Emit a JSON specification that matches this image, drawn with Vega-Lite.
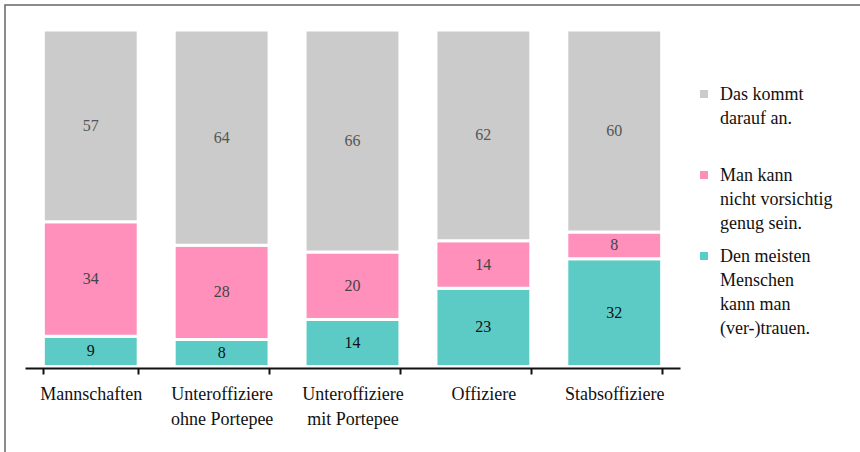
{
  "$schema": "https://vega.github.io/schema/vega-lite/v6.json",
  "autosize": {"type": "none"},
  "width": 860,
  "height": 452,
  "padding": {"left": 5, "top": 5, "right": -5, "bottom": -5},
  "background": "white",
  "config": {
    "view": {"stroke": "#666666", "strokeWidth": 1.5},
    "font": "Liberation Serif",
    "legend": {"labelFont": "Liberation Serif"},
    "axis": {"labelFont": "Liberation Serif"},
    "text": {"font": "Liberation Serif"}
  },
  "data": {
    "values": [
      {"rang": "Mannschaften", "antwort": "Den meisten Menschen kann man (ver-)trauen.", "wert": 9},
      {"rang": "Mannschaften", "antwort": "Man kann nicht vorsichtig genug sein.", "wert": 34},
      {"rang": "Mannschaften", "antwort": "Das kommt darauf an.", "wert": 57},
      {"rang": "Unteroffiziere ohne Portepee", "antwort": "Den meisten Menschen kann man (ver-)trauen.", "wert": 8},
      {"rang": "Unteroffiziere ohne Portepee", "antwort": "Man kann nicht vorsichtig genug sein.", "wert": 28},
      {"rang": "Unteroffiziere ohne Portepee", "antwort": "Das kommt darauf an.", "wert": 64},
      {"rang": "Unteroffiziere mit Portepee", "antwort": "Den meisten Menschen kann man (ver-)trauen.", "wert": 14},
      {"rang": "Unteroffiziere mit Portepee", "antwort": "Man kann nicht vorsichtig genug sein.", "wert": 20},
      {"rang": "Unteroffiziere mit Portepee", "antwort": "Das kommt darauf an.", "wert": 66},
      {"rang": "Offiziere", "antwort": "Den meisten Menschen kann man (ver-)trauen.", "wert": 23},
      {"rang": "Offiziere", "antwort": "Man kann nicht vorsichtig genug sein.", "wert": 14},
      {"rang": "Offiziere", "antwort": "Das kommt darauf an.", "wert": 62},
      {"rang": "Stabsoffiziere", "antwort": "Den meisten Menschen kann man (ver-)trauen.", "wert": 32},
      {"rang": "Stabsoffiziere", "antwort": "Man kann nicht vorsichtig genug sein.", "wert": 8},
      {"rang": "Stabsoffiziere", "antwort": "Das kommt darauf an.", "wert": 60}
    ]
  },
  "transform": [
    {"calculate": "indexof(['Den meisten Menschen kann man (ver-)trauen.', 'Man kann nicht vorsichtig genug sein.', 'Das kommt darauf an.'], datum.antwort)", "as": "ord"},
    {"stack": "wert", "groupby": ["rang"], "sort": [{"field": "ord", "order": "ascending"}], "offset": "normalize", "as": ["y0", "y1"]},
    {"calculate": "(datum.y0 + datum.y1) / 2", "as": "mid"}
  ],
  "encoding": {
    "x": {
      "field": "rang",
      "type": "nominal",
      "sort": null,
      "scale": {"range": [20, 675], "paddingInner": 0.275, "paddingOuter": 0.14},
      "axis": {
        "title": null,
        "orient": "bottom",
        "offset": -89,
        "zindex": 1,
        "labelAngle": 0,
        "tickBand": "extent",
        "domainColor": "#111111",
        "domainWidth": 2,
        "tickColor": "#111111",
        "tickWidth": 2,
        "tickSize": 6,
        "labelPadding": 11,
        "labelFont": "Liberation Serif",
        "labelFontSize": 18,
        "labelColor": "#111111",
        "labelBaseline": "top",
        "labelLineHeight": 25,
        "labelLimit": 200,
        "labelExpr": "datum.label == 'Unteroffiziere ohne Portepee' ? ['Unteroffiziere', 'ohne Portepee'] : datum.label == 'Unteroffiziere mit Portepee' ? ['Unteroffiziere', 'mit Portepee'] : datum.label"
      }
    }
  },
  "layer": [
    {
      "mark": {"type": "bar", "stroke": "white", "strokeWidth": 3},
      "encoding": {
        "y": {"field": "y0", "type": "quantitative", "scale": {"domain": [0, 1], "range": [361.5, 25], "nice": false, "zero": true}, "axis": null},
        "y2": {"field": "y1"},
        "color": {
          "field": "antwort",
          "type": "nominal",
          "scale": {
            "domain": ["Das kommt darauf an.", "Man kann nicht vorsichtig genug sein.", "Den meisten Menschen kann man (ver-)trauen."],
            "range": ["#cbcbcb", "#ff8fbb", "#5ccbc6"]
          },
          "legend": {
            "title": null,
            "orient": "none",
            "legendX": 690,
            "legendY": 80,
            "padding": 0,
            "symbolType": "square",
            "symbolSize": 64,
            "symbolStrokeWidth": 0,
            "labelOffset": 7,
            "labelFont": "Liberation Serif",
            "labelFontSize": 18,
            "labelColor": "#111111",
            "labelLimit": 200,
            "labelBaseline": "top",
            "rowPadding": 14,
            "labelExpr": "datum.label == 'Das kommt darauf an.' ? ['Das kommt', 'darauf an.', ''] : datum.label == 'Man kann nicht vorsichtig genug sein.' ? ['Man kann', 'nicht vorsichtig', 'genug sein.'] : ['Den meisten', 'Menschen', 'kann man', '(ver-)trauen.']",
            "encoding": {
              "labels": {
                "font": {"value": "Liberation Serif"},
                "fontSize": {"value": 18},
                "lineHeight": {"value": 24},
                "dy": {"value": -8}
              }
            }
          }
        }
      }
    },
    {
      "mark": {"type": "text", "font": "Liberation Serif", "fontSize": 16, "baseline": "middle"},
      "encoding": {
        "y": {"field": "mid", "type": "quantitative"},
        "text": {"field": "wert", "type": "quantitative"},
        "color": {
          "condition": [
            {"test": "datum.ord == 0", "value": "#111111"},
            {"test": "datum.ord == 1", "value": "#444444"}
          ],
          "value": "#555555"
        }
      }
    }
  ]
}
